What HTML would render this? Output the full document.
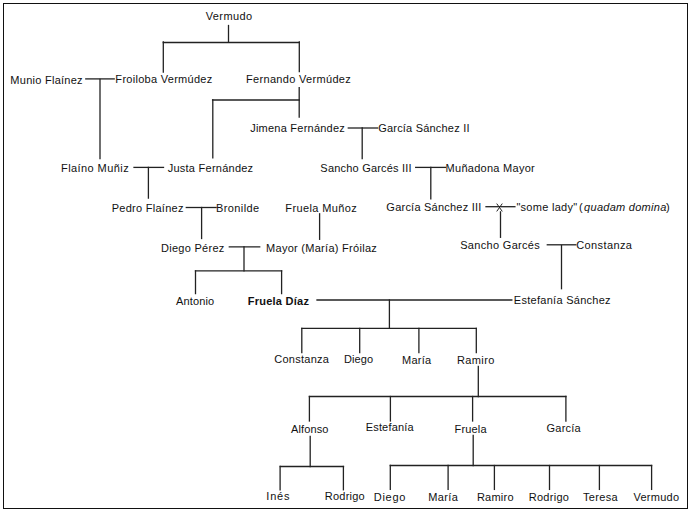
<!DOCTYPE html>
<html><head><meta charset="utf-8"><style>
html,body{margin:0;padding:0;background:#fff;}
body{width:691px;height:512px;overflow:hidden;position:relative;}
svg{position:absolute;left:0;top:0;}
text{font-family:"Liberation Sans",sans-serif;font-size:11px;fill:#111;}
</style></head><body>
<svg width="691" height="512" viewBox="0 0 691 512">
<rect x="3.5" y="3.5" width="684" height="505" fill="none" stroke="#111" stroke-width="1"/>
<g stroke="#222" stroke-width="1.3" stroke-linecap="square" fill="none">
<line x1="163.30" y1="42.50" x2="299.30" y2="42.50"/>
<line x1="85.80" y1="78.90" x2="114.20" y2="78.90"/>
<line x1="212.60" y1="100.00" x2="299.20" y2="100.00"/>
<line x1="348.30" y1="128.00" x2="377.60" y2="128.00"/>
<line x1="134.00" y1="167.40" x2="163.50" y2="167.40"/>
<line x1="415.70" y1="167.40" x2="445.50" y2="167.40"/>
<line x1="186.30" y1="207.50" x2="216.10" y2="207.50"/>
<line x1="486.00" y1="206.70" x2="514.90" y2="206.70"/>
<line x1="229.30" y1="246.80" x2="259.70" y2="246.80"/>
<line x1="195.50" y1="270.90" x2="281.60" y2="270.90"/>
<line x1="547.30" y1="244.80" x2="575.80" y2="244.80"/>
<line x1="317.00" y1="300.00" x2="511.80" y2="300.00"/>
<line x1="301.80" y1="328.30" x2="476.30" y2="328.30"/>
<line x1="309.40" y1="396.50" x2="565.90" y2="396.50"/>
<line x1="280.30" y1="466.50" x2="343.50" y2="466.50"/>
<line x1="390.30" y1="465.50" x2="651.60" y2="465.50"/>
<line x1="228.50" y1="25.50" x2="228.50" y2="42.00"/>
<line x1="163.30" y1="42.00" x2="163.30" y2="72.00"/>
<line x1="299.30" y1="42.00" x2="299.30" y2="71.60"/>
<line x1="100.00" y1="79.50" x2="100.00" y2="158.60"/>
<line x1="299.20" y1="87.60" x2="299.20" y2="117.00"/>
<line x1="212.80" y1="100.00" x2="212.80" y2="157.80"/>
<line x1="362.20" y1="128.00" x2="362.20" y2="158.60"/>
<line x1="148.40" y1="167.40" x2="148.40" y2="198.10"/>
<line x1="430.80" y1="167.40" x2="430.80" y2="198.75"/>
<line x1="201.60" y1="207.50" x2="201.60" y2="238.50"/>
<line x1="319.60" y1="213.80" x2="319.60" y2="239.30"/>
<line x1="500.50" y1="211.90" x2="500.50" y2="237.30"/>
<line x1="244.00" y1="246.80" x2="244.00" y2="270.90"/>
<line x1="195.50" y1="270.90" x2="195.50" y2="293.60"/>
<line x1="281.60" y1="270.90" x2="281.60" y2="293.60"/>
<line x1="561.50" y1="245.50" x2="561.50" y2="288.70"/>
<line x1="389.40" y1="300.00" x2="389.40" y2="328.30"/>
<line x1="301.80" y1="328.30" x2="301.80" y2="352.60"/>
<line x1="359.70" y1="328.30" x2="359.70" y2="352.60"/>
<line x1="418.90" y1="328.30" x2="418.90" y2="352.60"/>
<line x1="476.30" y1="328.30" x2="476.30" y2="352.60"/>
<line x1="478.30" y1="366.50" x2="478.30" y2="396.50"/>
<line x1="309.40" y1="396.50" x2="309.40" y2="421.00"/>
<line x1="390.40" y1="396.50" x2="390.40" y2="421.00"/>
<line x1="472.60" y1="396.50" x2="472.60" y2="421.00"/>
<line x1="565.90" y1="396.50" x2="565.90" y2="421.00"/>
<line x1="310.20" y1="436.50" x2="310.20" y2="466.50"/>
<line x1="280.10" y1="466.50" x2="280.10" y2="489.80"/>
<line x1="343.40" y1="466.50" x2="343.40" y2="489.80"/>
<line x1="473.20" y1="435.40" x2="473.20" y2="465.50"/>
<line x1="390.30" y1="465.50" x2="390.30" y2="489.40"/>
<line x1="448.10" y1="465.50" x2="448.10" y2="489.40"/>
<line x1="494.40" y1="465.50" x2="494.40" y2="489.40"/>
<line x1="549.50" y1="465.50" x2="549.50" y2="489.40"/>
<line x1="599.40" y1="465.50" x2="599.40" y2="489.40"/>
<line x1="651.60" y1="465.50" x2="651.60" y2="489.40"/>
<path d="M497 204 L502 211 M502 204 L497 211" stroke-width="1"/>
</g>
<g>
<text x="205.71" y="20.10" textLength="46.39" lengthAdjust="spacing">Vermudo</text>
<text x="10.37" y="83.50" textLength="72.24" lengthAdjust="spacing">Munio Flaínez</text>
<text x="115.37" y="83.30" textLength="96.90" lengthAdjust="spacing">Froiloba Vermúdez</text>
<text x="246.03" y="83.30" textLength="104.75" lengthAdjust="spacing">Fernando Vermúdez</text>
<text x="250.22" y="132.40" textLength="94.58" lengthAdjust="spacing">Jimena Fernández</text>
<text x="378.20" y="132.40" textLength="91.26" lengthAdjust="spacing">García Sánchez II</text>
<text x="61.03" y="171.70" textLength="67.60" lengthAdjust="spacing">Flaíno Muñiz</text>
<text x="167.71" y="171.70" textLength="85.41" lengthAdjust="spacing">Justa Fernández</text>
<text x="320.37" y="171.70" textLength="91.26" lengthAdjust="spacing">Sancho Garcés III</text>
<text x="445.54" y="171.70" textLength="89.22" lengthAdjust="spacing">Muñadona Mayor</text>
<text x="111.71" y="211.80" textLength="71.73" lengthAdjust="spacing">Pedro Flaínez</text>
<text x="216.03" y="211.80" textLength="43.09" lengthAdjust="spacing">Bronilde</text>
<text x="285.37" y="211.80" textLength="71.41" lengthAdjust="spacing">Fruela Muñoz</text>
<text x="386.37" y="211.20" textLength="94.92" lengthAdjust="spacing">García Sánchez III</text>
<text x="516.40" y="211.00" textLength="60.80" lengthAdjust="spacing">"some lady"</text>
<text x="578.90" y="211.00" textLength="4.20" lengthAdjust="spacing">(</text>
<text x="584.10" y="211.00" textLength="82.20" lengthAdjust="spacing" font-style="italic">quadam domina</text>
<text x="666.00" y="211.00" textLength="4.50" lengthAdjust="spacing">)</text>
<text x="161.03" y="251.50" textLength="63.24" lengthAdjust="spacing">Diego Pérez</text>
<text x="266.03" y="251.50" textLength="110.77" lengthAdjust="spacing">Mayor (María) Fróilaz</text>
<text x="460.20" y="249.20" textLength="79.58" lengthAdjust="spacing">Sancho Garcés</text>
<text x="576.20" y="249.20" textLength="55.75" lengthAdjust="spacing">Constanza</text>
<text x="176.05" y="304.50" textLength="38.05" lengthAdjust="spacing">Antonio</text>
<text x="247.71" y="304.50" textLength="61.22" lengthAdjust="spacing" font-weight="bold">Fruela Díaz</text>
<text x="513.86" y="304.10" textLength="96.75" lengthAdjust="spacing">Estefanía Sánchez</text>
<text x="274.22" y="363.40" textLength="54.71" lengthAdjust="spacing">Constanza</text>
<text x="344.03" y="363.40" textLength="29.07" lengthAdjust="spacing">Diego</text>
<text x="402.03" y="363.80" textLength="29.07" lengthAdjust="spacing">María</text>
<text x="457.03" y="363.80" textLength="37.24" lengthAdjust="spacing">Ramiro</text>
<text x="291.07" y="432.60" textLength="37.37" lengthAdjust="spacing">Alfonso</text>
<text x="365.69" y="431.20" textLength="47.90" lengthAdjust="spacing">Estefanía</text>
<text x="454.54" y="433.20" textLength="32.05" lengthAdjust="spacing">Fruela</text>
<text x="546.56" y="432.30" textLength="34.03" lengthAdjust="spacing">García</text>
<text x="266.37" y="499.90" textLength="23.09" lengthAdjust="spacing">Inés</text>
<text x="324.86" y="499.90" textLength="39.75" lengthAdjust="spacing">Rodrigo</text>
<text x="373.86" y="500.60" textLength="31.43" lengthAdjust="spacing">Diego</text>
<text x="428.20" y="500.60" textLength="29.73" lengthAdjust="spacing">María</text>
<text x="476.88" y="500.60" textLength="36.73" lengthAdjust="spacing">Ramiro</text>
<text x="528.71" y="501.20" textLength="40.24" lengthAdjust="spacing">Rodrigo</text>
<text x="583.05" y="501.20" textLength="34.54" lengthAdjust="spacing">Teresa</text>
<text x="633.39" y="501.20" textLength="45.71" lengthAdjust="spacing">Vermudo</text>
</g>
</svg>
</body></html>
